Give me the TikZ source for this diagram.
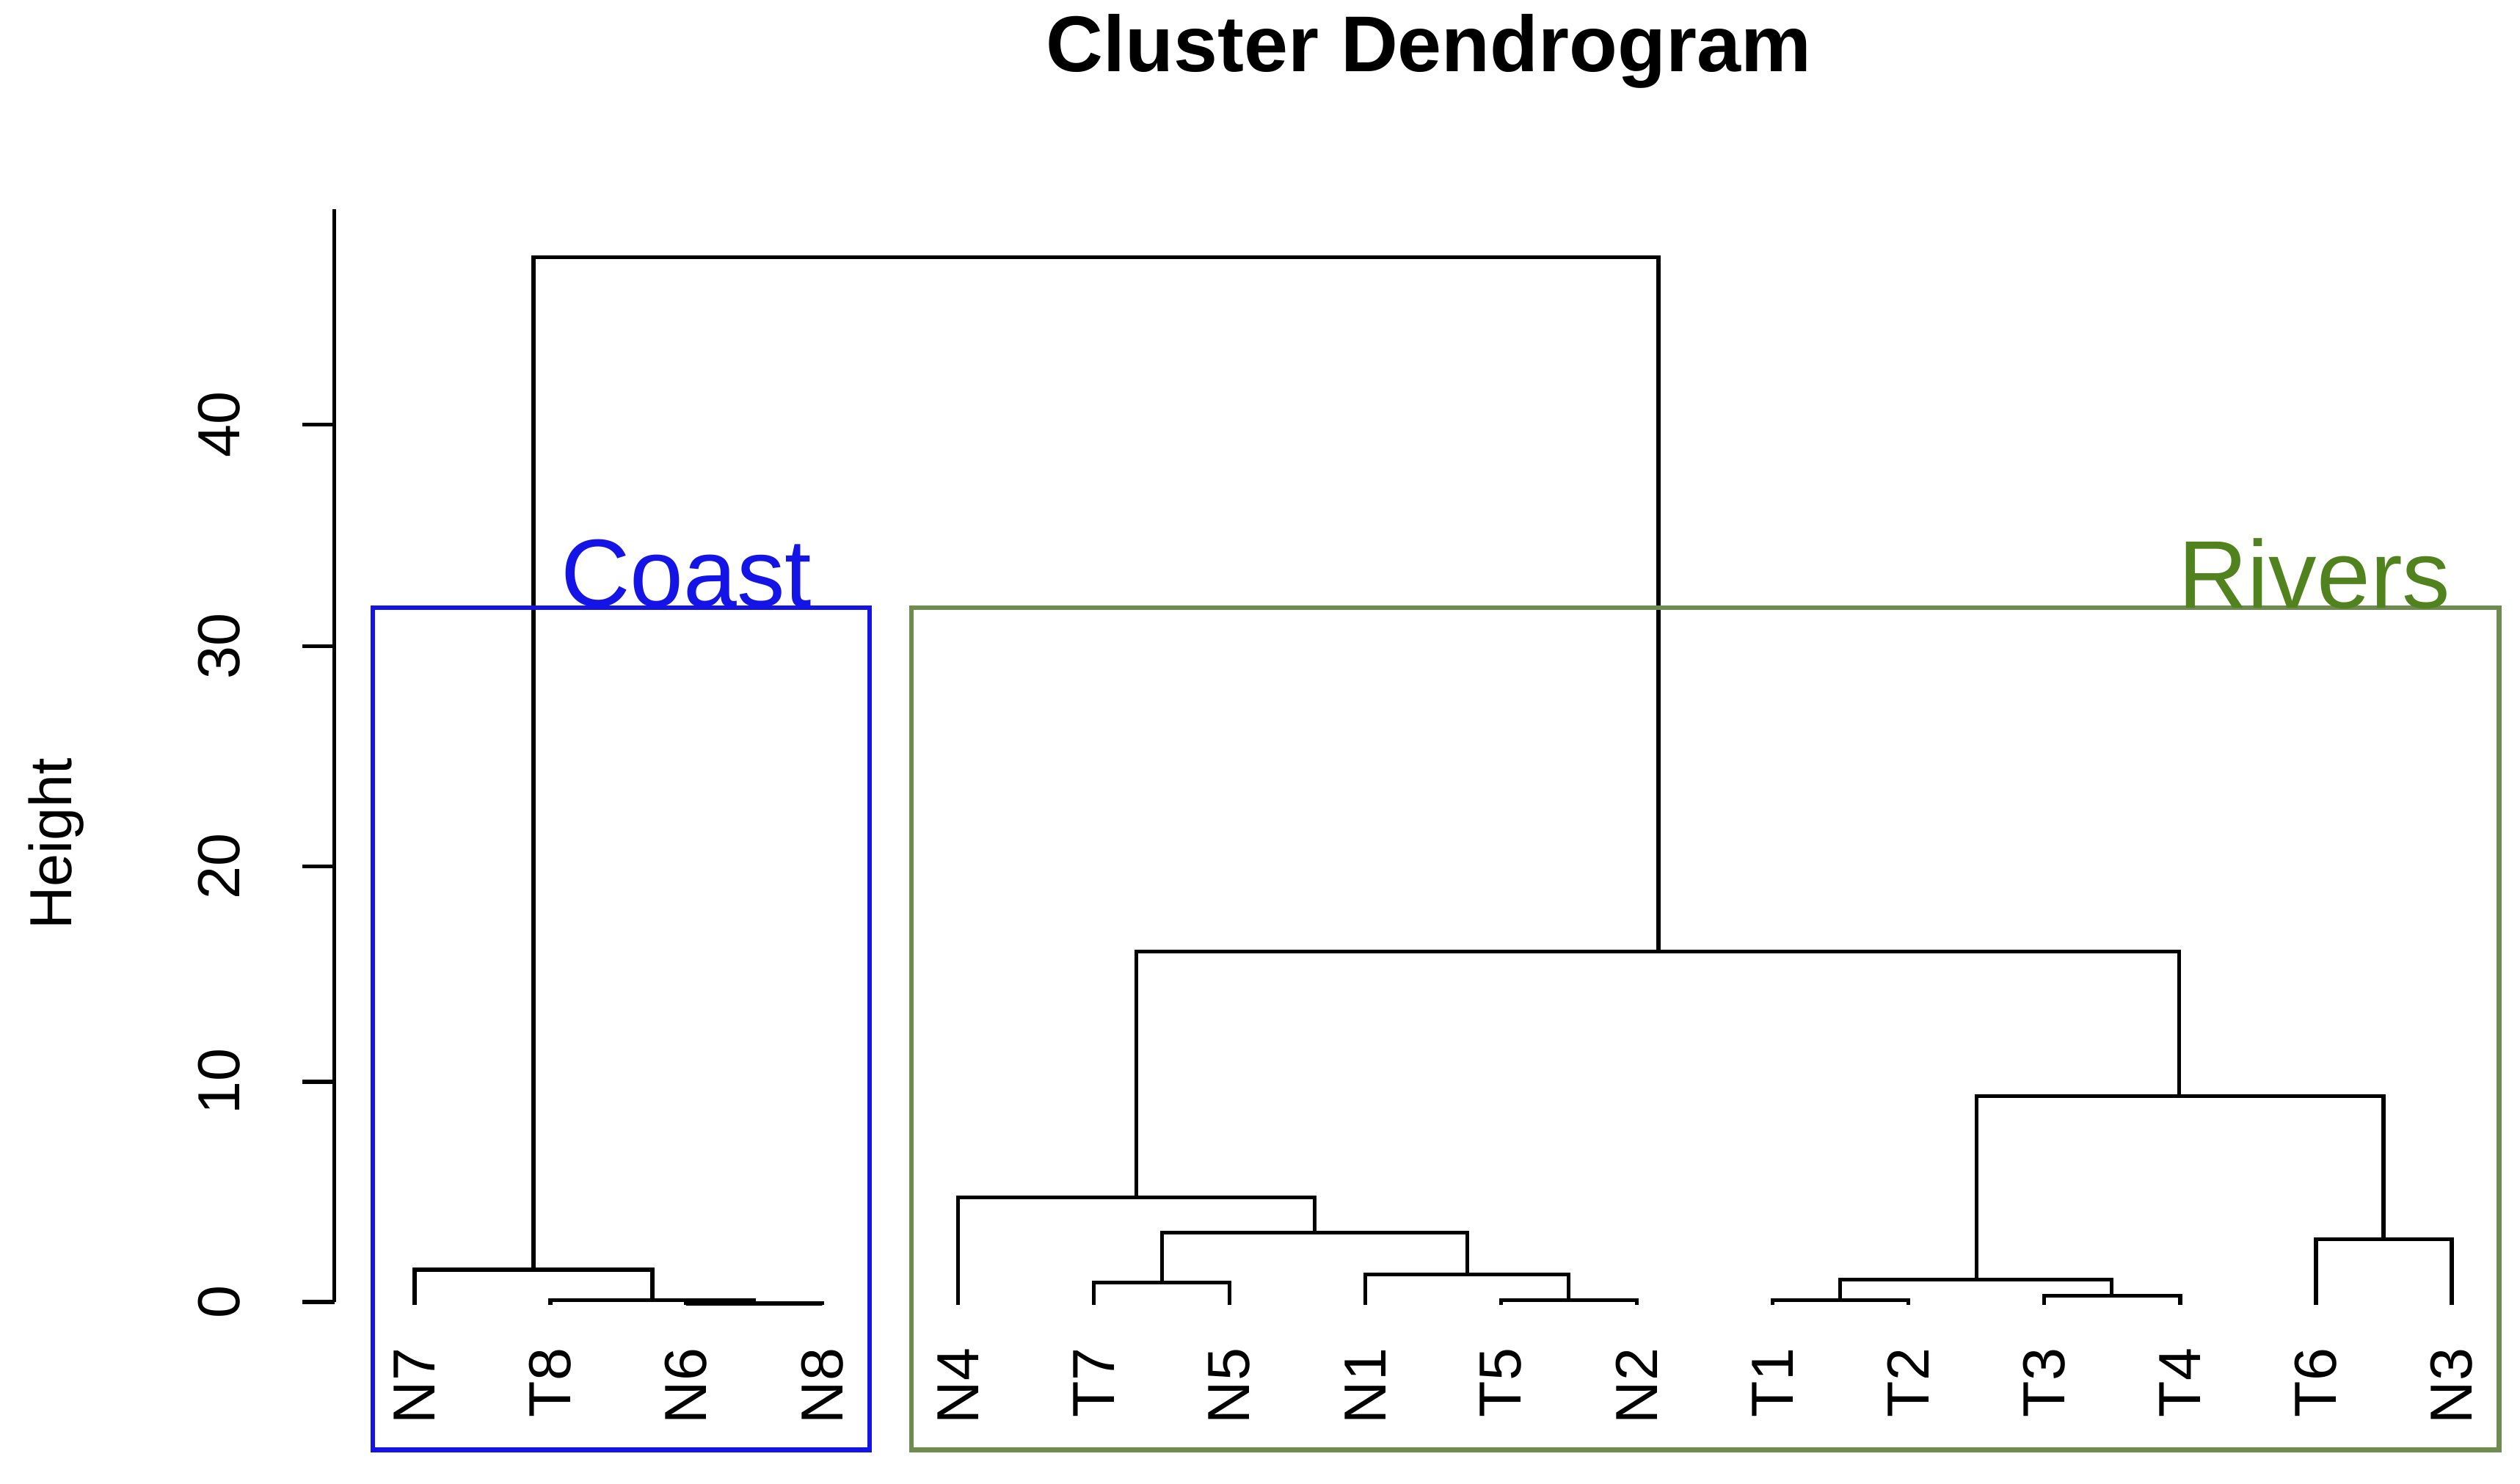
\documentclass[tikz,border=0pt]{standalone}
\usepackage{fontspec}
\setmainfont{Liberation Sans}
\usepackage{tikz}
\definecolor{coastblue}{RGB}{20,20,230}
\definecolor{rivergreen}{RGB}{110,140,80}
\definecolor{rivertext}{RGB}{80,130,30}
\begin{document}
\begin{tikzpicture}[x=0.01cm,y=-0.01cm,
    leaf/.style={rotate=90,anchor=east,font=\fontsize{10.5}{11}\selectfont,inner sep=0pt},
    tick/.style={rotate=90,anchor=south,font=\fontsize{10.5}{11}\selectfont,inner sep=0pt},
    branch/.style={black,line width=0.7pt}]
    \useasboundingbox (0,0) rectangle (1568,923);
    % Title and axis
    \node[font=\bfseries\fontsize{14}{15}\selectfont] (title) at (889,32) {Cluster Dendrogram};
    \node[rotate=90,font=\fontsize{10.5}{11}\selectfont] (ylab) at (35,525) {Height};
    \draw[branch] (208,130) -- (208,810);
    \foreach \v/\yy in {0/810,10/673,20/539,30/402,40/264}{
        \draw[branch] (208,\yy) -- (188,\yy);
        \node[tick] (t\v) at (150,\yy) {\v};
    }
    % Leaves
    \foreach \name [count=\i from 0] in {N7,T8,N6,N8,N4,T7,N5,N1,T5,N2,T1,T2,T3,T4,T6,N3}{
        \pgfmathsetmacro{\xx}{258+84.5*\i}
        \node[leaf] (\name) at (\xx,838) {\name};
    }
    % Merges
    \draw[branch] (427,812) |- (469,811) -| (511.5,812);
    \draw[branch] (342.5,812) |- (406,809) -| (469,811);
    \draw[branch] (258,812) |- (332,790) -| (406,809);
    \draw[branch] (680.5,812) |- (723,798) -| (765,812);
    \draw[branch] (934,812) |- (976,809) -| (1018.5,812);
    \draw[branch] (849.5,812) |- (913,793) -| (976,809);
    \draw[branch] (723,798) |- (818,767) -| (913,793);
    \draw[branch] (596,812) |- (707,745) -| (818,767);
    \draw[branch] (1103,812) |- (1145,809) -| (1187.5,812);
    \draw[branch] (1272,812) |- (1314,806) -| (1356.5,812);
    \draw[branch] (1145,809) |- (1230,796) -| (1314,806);
    \draw[branch] (1441,812) |- (1483,771) -| (1525.5,812);
    \draw[branch] (1230,796) |- (1356,682) -| (1483,771);
    \draw[branch] (707,745) |- (1032,592) -| (1356,682);
    \draw[branch] (332,790) |- (682,160) -| (1032,592);
    % Groups
    \draw[coastblue,line width=0.8pt] (232,378) rectangle (541,902);
    \draw[rivergreen,line width=0.8pt] (567,378) rectangle (1555,902);
    \node[coastblue,font=\fontsize{17}{18}\selectfont,inner sep=0pt] (coast) at (427,357) {Coast};
    \node[rivertext,font=\fontsize{17}{18}\selectfont,inner sep=0pt] (rivers) at (1440,357) {Rivers};
\end{tikzpicture}
\end{document}
